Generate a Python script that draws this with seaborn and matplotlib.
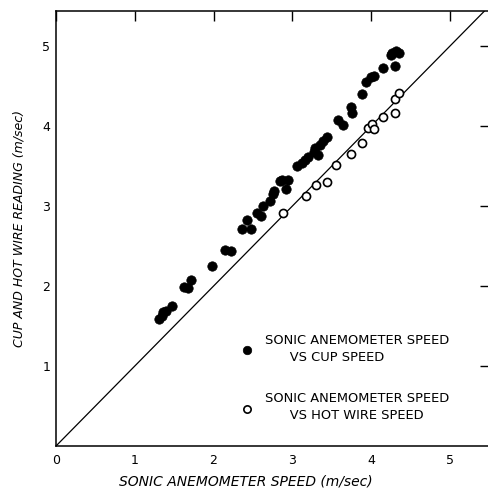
import matplotlib
matplotlib.use("Agg")
import matplotlib.pyplot as plt
import seaborn as sns
import pandas as pd

# Sonic anemometer speed vs cup speed (filled dots)
cup_sonic = [1.31, 1.34, 1.36, 1.40, 1.47, 1.63, 1.67, 1.71, 1.98, 2.14, 2.22,
             2.36, 2.43, 2.47, 2.55, 2.60, 2.63, 2.72, 2.75, 2.77, 2.84, 2.87,
             2.92, 2.95, 3.06, 3.12, 3.16, 3.20, 3.27, 3.29, 3.33, 3.35, 3.39,
             3.44, 3.58, 3.65, 3.75, 3.76, 3.89, 3.93, 4.00, 4.04, 4.15, 4.25,
             4.27, 4.32, 4.35, 4.31]
cup_speed = [1.59, 1.63, 1.67, 1.69, 1.75, 1.99, 1.97, 2.08, 2.25, 2.45, 2.44,
             2.72, 2.83, 2.72, 2.91, 2.88, 3.00, 3.06, 3.15, 3.19, 3.31, 3.33,
             3.22, 3.33, 3.50, 3.54, 3.58, 3.61, 3.68, 3.73, 3.64, 3.77, 3.82,
             3.87, 4.08, 4.01, 4.24, 4.16, 4.40, 4.55, 4.61, 4.63, 4.73, 4.89,
             4.91, 4.94, 4.91, 4.75]

# Sonic anemometer speed vs hot wire speed (open circles)
hw_sonic = [2.88, 3.17, 3.30, 3.44, 3.56, 3.74, 3.89, 3.96, 4.01, 4.04, 4.15,
            4.30, 4.31, 4.35]
hw_speed = [2.91, 3.13, 3.27, 3.30, 3.52, 3.65, 3.79, 3.98, 4.03, 3.97, 4.11,
            4.17, 4.34, 4.42]

x_ticks = [0, 1, 2, 3, 4, 5]
y_ticks = [1, 2, 3, 4, 5]

label_cup = "SONIC ANEMOMETER SPEED\n      VS CUP SPEED"
label_hw = "SONIC ANEMOMETER SPEED\n      VS HOT WIRE SPEED"

sns.set_theme(style="white")
plt.rcParams['font.family'] = ['DejaVu Sans']
plt.rcParams['text.color'] = 'black'
plt.rcParams['axes.labelcolor'] = 'black'
plt.rcParams['xtick.color'] = 'black'
plt.rcParams['ytick.color'] = 'black'

df_cup = pd.DataFrame({"sonic": cup_sonic, "reading": cup_speed})
df_hw = pd.DataFrame({"sonic": hw_sonic, "reading": hw_speed})

fig = plt.figure(figsize=(4.88, 4.91), dpi=100)
ax = fig.add_axes([56/488, 45/491, 434/488, 435/491])

sns.scatterplot(data=df_cup, x="sonic", y="reading", ax=ax, s=46,
                color="black", edgecolor="black", linewidth=0.5,
                label=label_cup, zorder=3)
sns.scatterplot(data=df_hw, x="sonic", y="reading", ax=ax, s=34,
                facecolor="white", edgecolor="black", linewidth=1.2,
                label=label_hw, zorder=3)

ax.axline((0, 0), slope=1, color="black", linewidth=0.9, zorder=2)

ax.set_xlim(0, 5.51)
ax.set_ylim(0, 5.44)
ax.set_xticks(x_ticks)
ax.set_yticks(y_ticks)
ax.set_xticklabels([str(t) for t in x_ticks])
ax.set_yticklabels([str(t) for t in y_ticks])
ax.tick_params(axis="both", direction="in", length=7, width=1.0,
               colors="black", labelcolor="black", labelsize=9,
               top=True, right=True)
ax.tick_params(axis="x", pad=6)
ax.tick_params(axis="y", pad=4)

for side in ["left", "bottom", "top", "right"]:
    ax.spines[side].set_color("black")
    ax.spines[side].set_linewidth(1.1)
ax.spines["right"].set_visible(False)

ax.set_xlabel("SONIC ANEMOMETER SPEED (m/sec)", fontsize=10, style="italic",
              color="black")
ax.set_ylabel("CUP AND HOT WIRE READING (m/sec)", fontsize=9.0, style="italic",
              color="black")
ax.xaxis.set_label_coords(0.438, -0.066)
ax.yaxis.set_label_coords(-0.07, 0.5)

leg = ax.legend(loc="upper left", bbox_to_anchor=(0.424, 0.258), frameon=False,
                fontsize=9.4, markerscale=0.9, labelspacing=2.2,
                handletextpad=0.9, handlelength=1.0, borderaxespad=0,
                borderpad=0)
for t in leg.get_texts():
    t.set_linespacing(1.4)
    t.set_color("black")

fig.savefig("out.png", dpi=100)
